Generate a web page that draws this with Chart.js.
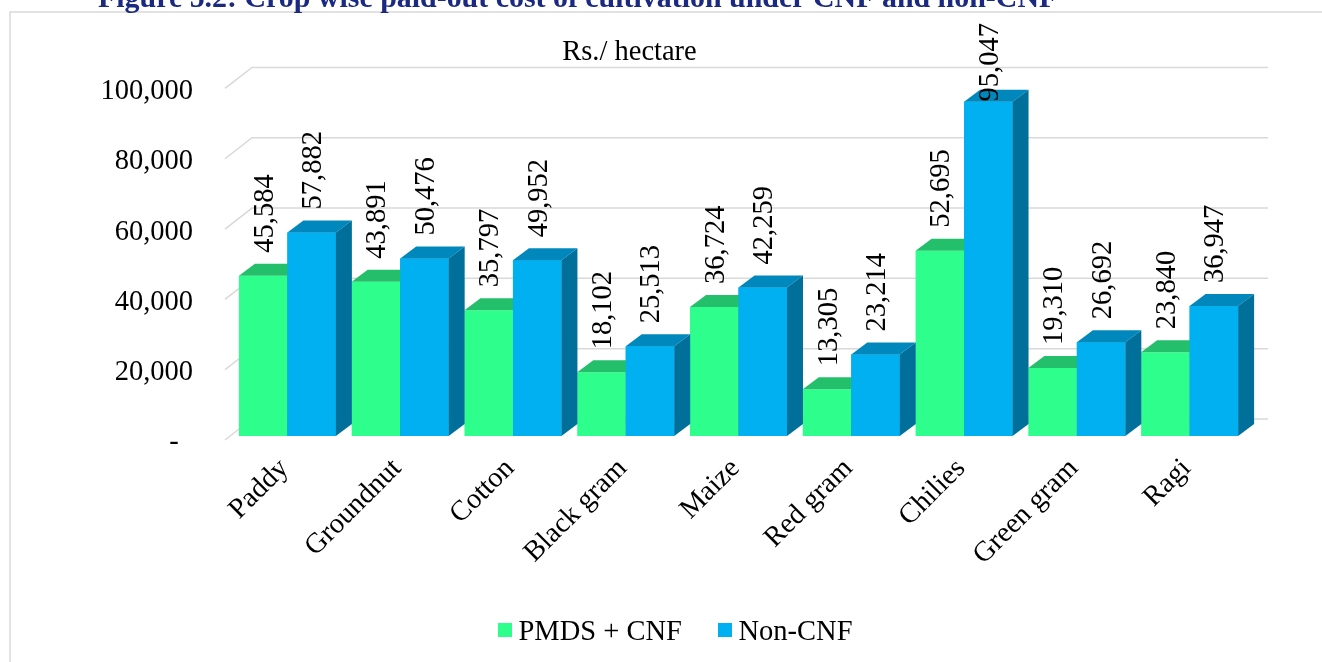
<!DOCTYPE html>
<html><head><meta charset="utf-8">
<script src="https://cdn.jsdelivr.net/npm/chart.js@4.4.1/dist/chart.umd.min.js"></script>
<style>html,body{margin:0;padding:0;background:#fff;}canvas{display:block;}</style>
</head><body>
<canvas id="c" width="1322" height="662"></canvas>
<script>
const categories = ['Paddy','Groundnut','Cotton','Black gram','Maize','Red gram','Chilies','Green gram','Ragi'];
const cnfValues = [45584,43891,35797,18102,36724,13305,52695,19310,23840];
const nonCnfValues = [57882,50476,49952,25513,42259,23214,95047,26692,36947];
const seriesNames = ['PMDS + CNF','Non-CNF'];
const yTicks = [0,20000,40000,60000,80000,100000];
const titleText = 'Figure 5.2: Crop wise paid-out cost of cultivation under CNF and non-CNF';
const unitText = 'Rs./ hectare';

const FONT = '"Liberation Serif","Times New Roman",serif';
const FS = 28.5;
const DX = 16, DY = -12;
const frontColors = ['#2EFF8C', '#00B0F0'];
const faceColors = [{top:'#23BF6A', side:'#1FA85C'}, {top:'#0088BC', side:'#00709B'}];
const GRID = '#D9D9D9';

const fmt = v => v.toLocaleString('en-US');

const plugin3d = {
  id: 'p3d',
  beforeDraw(chart) {
    const ctx = chart.ctx;
    ctx.save();
    ctx.fillStyle = '#fff';
    ctx.fillRect(0, 0, chart.width, chart.height);
    ctx.strokeStyle = GRID; ctx.lineWidth = 1.5;
    ctx.beginPath();
    ctx.moveTo(10, chart.height + 5); ctx.lineTo(10, 12); ctx.lineTo(chart.width + 5, 12);
    ctx.stroke();
    // title (clipped at top)
    ctx.font = 'bold 100px ' + FONT;
    const w = ctx.measureText(titleText).width;
    const size = 100 * 960 / w;
    ctx.font = 'bold ' + size + 'px ' + FONT;
    ctx.fillStyle = '#1B2A80';
    ctx.textAlign = 'left'; ctx.textBaseline = 'alphabetic';
    ctx.fillText(titleText, 98, 7);
    // unit text
    ctx.font = FS + 'px ' + FONT;
    ctx.fillStyle = '#000';
    ctx.textAlign = 'center';
    ctx.fillText(unitText, 629.5, 60);
    ctx.restore();
  },
  beforeDatasetsDraw(chart) {
    const ctx = chart.ctx, ys = chart.scales.y, a = chart.chartArea;
    ctx.save();
    ctx.strokeStyle = GRID; ctx.lineWidth = 1.5;
    yTicks.forEach(v => {
      const py = ys.getPixelForValue(v);
      ctx.beginPath();
      ctx.moveTo(a.left - 6, py + 4);
      ctx.lineTo(a.left + 21, py - 17);
      ctx.lineTo(a.right + 22, py - 17);
      ctx.stroke();
    });
    ctx.restore();
  },
  afterDatasetsDraw(chart) {
    const ctx = chart.ctx;
    const metas = [chart.getDatasetMeta(0), chart.getDatasetMeta(1)];
    ctx.save();
    for (let i = 0; i < categories.length; i++) {
      metas.forEach((meta, d) => {
        const bar = meta.data[i];
        if (d > 0) bar.draw(ctx, chart.chartArea);
        const p = bar.getProps(['x','y','base','width'], true);
        const l = p.x - p.width / 2, r = p.x + p.width / 2;
        ctx.fillStyle = faceColors[d].top;
        ctx.beginPath();
        ctx.moveTo(l, p.y); ctx.lineTo(l + DX, p.y + DY); ctx.lineTo(r + DX, p.y + DY); ctx.lineTo(r, p.y);
        ctx.closePath(); ctx.fill();
        ctx.fillStyle = faceColors[d].side;
        ctx.beginPath();
        ctx.moveTo(r, p.y); ctx.lineTo(r + DX, p.y + DY); ctx.lineTo(r + DX, p.base + DY); ctx.lineTo(r, p.base);
        ctx.closePath(); ctx.fill();
      });
    }
    // value labels
    ctx.font = FS + 'px ' + FONT;
    ctx.fillStyle = '#000';
    ctx.textAlign = 'left'; ctx.textBaseline = 'middle';
    metas.forEach((meta, d) => {
      const vals = chart.data.datasets[d].data;
      meta.data.forEach((bar, i) => {
        const t = fmt(vals[i]);
        const tw = ctx.measureText(t).width;
        const ay = Math.max(bar.y - 23, 23 + tw);
        ctx.save();
        ctx.translate(bar.x + 2, ay);
        ctx.rotate(-Math.PI / 2);
        ctx.fillText(t, 0, 0);
        ctx.restore();
      });
    });
    ctx.restore();
  },
  afterDraw(chart) {
    const ctx = chart.ctx;
    ctx.save();
    ctx.font = FS + 'px ' + FONT;
    ctx.fillStyle = '#000';
    ctx.textAlign = 'left'; ctx.textBaseline = 'alphabetic';
    const xs = [498, 718];
    seriesNames.forEach((n, d) => {
      ctx.fillStyle = frontColors[d];
      ctx.fillRect(xs[d], 623, 14, 14);
      ctx.fillStyle = '#000';
      ctx.fillText(n, xs[d] + 20.5, 639.5);
    });
    ctx.restore();
  }
};

new Chart(document.getElementById('c'), {
  type: 'bar',
  data: {
    labels: categories,
    datasets: [
      { label: seriesNames[0], data: cnfValues, backgroundColor: frontColors[0], borderWidth: 0 },
      { label: seriesNames[1], data: nonCnfValues, backgroundColor: frontColors[1], borderWidth: 0 }
    ]
  },
  options: {
    responsive: false,
    animation: false,
    events: [],
    layout: { padding: { left: 0, right: 76, top: 84.4, bottom: 0 } },
    datasets: { bar: { categoryPercentage: 0.86, barPercentage: 1 } },
    plugins: { legend: { display: false }, tooltip: { enabled: false }, title: { display: false } },
    scales: {
      x: {
        grid: { display: false, drawTicks: false },
        border: { display: false },
        ticks: {
          autoSkip: false, minRotation: 45, maxRotation: 45, padding: 16, labelOffset: -3,
          color: '#000', font: { family: FONT, size: FS }
        },
        afterFit(s) { s.height = 226; }
      },
      y: {
        min: 0, max: 100000,
        grid: { display: false, drawTicks: false },
        border: { display: false },
        ticks: {
          stepSize: 20000, padding: 38, labelOffset: 7,
          color: '#000', font: { family: FONT, size: FS },
          callback: v => v === 0 ? '-  ' : fmt(v)
        },
        afterFit(s) { s.width = 231; }
      }
    }
  },
  plugins: [plugin3d]
});
</script>
</body></html>
